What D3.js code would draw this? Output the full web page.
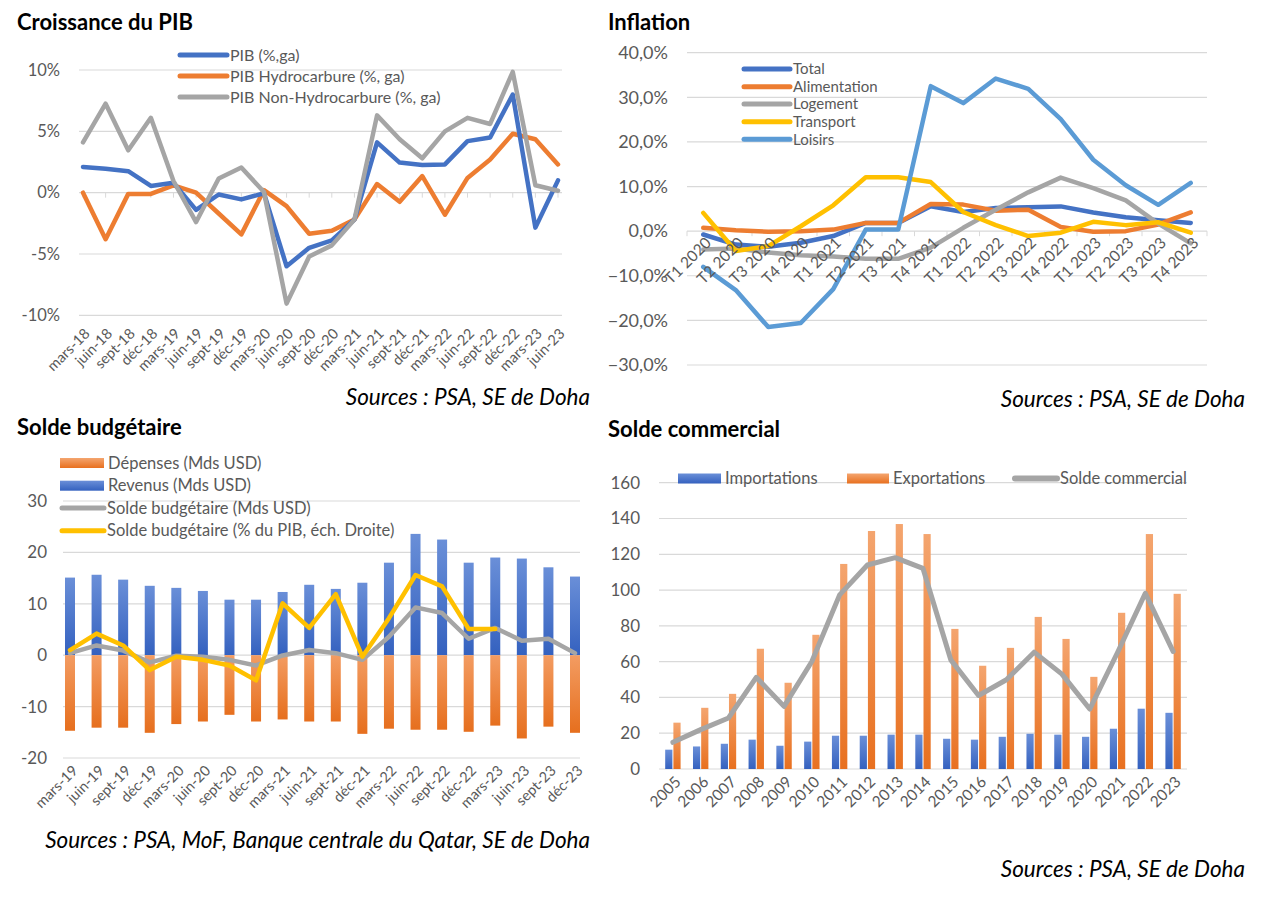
<!DOCTYPE html>
<html><head><meta charset="utf-8">
<script src="https://cdn.jsdelivr.net/npm/d3@7"></script>
<style>
body{margin:0;background:#fff;}
svg text{font-family:Lato,"Open Sans",sans-serif;}
</style></head>
<body><svg id="c" width="1273" height="907"></svg>
<script>
// ---------- Data ----------
const pibDates = ["mars-18","juin-18","sept-18","déc-18","mars-19","juin-19","sept-19","déc-19","mars-20","juin-20","sept-20","déc-20","mars-21","juin-21","sept-21","déc-21","mars-22","juin-22","sept-22","déc-22","mars-23","juin-23"];
const pibTotal = [2.1,1.95,1.75,0.55,0.8,-1.4,-0.15,-0.55,-0.05,-6.0,-4.5,-3.9,-2.2,4.1,2.45,2.25,2.3,4.2,4.5,8.0,-2.85,1.0];
const pibHydro = [0,-3.8,-0.1,-0.1,0.6,0.0,-1.7,-3.4,0.2,-1.1,-3.35,-3.1,-2.2,0.7,-0.75,1.35,-1.8,1.2,2.7,4.8,4.35,2.3];
const pibNonHydro = [4.1,7.25,3.45,6.1,0.95,-2.4,1.15,2.05,0.05,-9.05,-5.2,-4.3,-2.2,6.3,4.35,2.8,5.0,6.1,5.6,9.85,0.6,0.15];
const pibTicks = [-10,-5,0,5,10];

const inflQuarters = ["T1 2020","T2 2020","T3 2020","T4 2020","T1 2021","T2 2021","T3 2021","T4 2021","T1 2022","T2 2022","T3  2022","T4 2022","T1 2023","T2 2023","T3 2023","T4 2023"];
const inflTotal = [-0.75,-3.0,-3.5,-2.6,-1.1,1.85,1.85,5.6,4.3,5.2,5.35,5.55,4.2,3.1,2.45,1.85];
const inflAlim = [0.75,0.2,-0.15,0,0.35,1.85,1.85,6.1,5.95,4.6,4.8,0.95,-0.15,0,1.5,4.2];
const inflLogement = [-4.1,-3.9,-4.8,-5.4,-5.7,-6.2,-6.2,-3.7,0.75,4.8,8.7,12.0,9.65,6.9,1.7,-2.75];
const inflTransport = [4.1,-4.45,-3.35,1.1,5.8,12.1,12.1,11.0,4.3,1.35,-1.1,-0.35,2.1,1.35,2.0,-0.35];
const inflLoisirs = [-8.0,-13.2,-21.5,-20.6,-13.0,0.35,0.35,32.5,28.7,34.2,31.9,25.1,16.0,10.3,5.9,10.8];
const inflTicks = [-30,-20,-10,0,10,20,30,40];

const budgetDates = ["mars-19","juin-19","sept-19","déc-19","mars-20","juin-20","sept-20","déc-20","mars-21","juin-21","sept-21","déc-21","mars-22","juin-22","sept-22","déc-22","mars-23","juin-23","sept-23","déc-23"];
const budgetRevenus = [15.1,15.65,14.7,13.5,13.1,12.5,10.8,10.8,12.3,13.7,12.9,14.1,18.0,23.6,22.5,18.0,19.0,18.8,17.1,15.3];
const budgetDepenses = [-14.7,-14.1,-14.1,-15.1,-13.4,-12.9,-11.6,-12.9,-12.5,-12.9,-12.9,-15.3,-14.3,-14.5,-14.5,-14.9,-13.7,-16.2,-13.9,-15.1];
const budgetSolde = [0.4,1.9,0.9,-1.4,-0.1,-0.3,-0.9,-2.0,-0.05,1.0,0.4,-0.9,3.6,9.3,8.2,3.2,5.3,2.8,3.2,0.4];
const budgetSoldePib = [1.0,4.2,1.9,-2.9,-0.3,-0.9,-2.0,-4.9,10.1,5.3,11.9,-0.3,7.2,15.6,13.4,5.1,5.1];
const budgetTicks = [-20,-10,0,10,20,30];

const tradeYears = ["2005","2006","2007","2008","2009","2010","2011","2012","2013","2014","2015","2016","2017","2018","2019","2020","2021","2022","2023"];
const tradeImports = [10.8,12.6,14.1,16.4,13.0,15.3,18.6,18.6,19.2,19.2,16.9,16.4,18.0,19.7,19.2,18.0,22.5,33.7,31.4];
const tradeExports = [25.9,34.2,42.0,67.2,48.2,75.0,114.6,133.0,136.9,131.3,78.3,57.7,67.7,85.0,72.7,51.5,87.3,131.3,97.9];
const tradeBalance = [14.9,22.0,28.5,51.2,35.0,60.1,97.3,114.0,118.1,112.1,61.0,41.1,49.9,65.3,53.0,33.5,65.1,98.2,65.7];
const tradeTicks = [0,20,40,60,80,100,120,140,160];

// ---------- Style ----------
const C = {blue:"#4472C4", orange:"#ED7D31", gray:"#A5A5A5", yellow:"#FFC000", lblue:"#5B9BD5", grid:"#D9D9D9", text:"#595959"};
const svg = d3.select("#c");
const defs = svg.append("defs");
function grad(id, top, bottom){
  const g = defs.append("linearGradient").attr("id",id).attr("x1",0).attr("y1",0).attr("x2",0).attr("y2",1);
  g.append("stop").attr("offset","0%").attr("stop-color",top);
  g.append("stop").attr("offset","100%").attr("stop-color",bottom);
}
grad("gBlue","#6A8FD8","#3461BF");
grad("gOrange","#F4A56F","#E8701F");
grad("gOrangeNeg","#F39C62","#E66F1E");

function title(x,y,t){ svg.append("text").attr("x",x).attr("y",y).attr("font-size",22).attr("font-weight","bold").attr("fill","#000").text(t); }
function source(x,y,t){ svg.append("text").attr("x",x).attr("y",y).attr("text-anchor","end").attr("font-size",22.5).attr("font-style","italic").attr("fill","#000").text(t); }
function yAxis(y, ticks, x0, x1, labelX, fmt, fs){
  const g = svg.append("g");
  ticks.forEach(t=>{
    g.append("line").attr("x1",x0).attr("x2",x1).attr("y1",y(t)).attr("y2",y(t)).attr("stroke",C.grid).attr("stroke-width",1.2);
    g.append("text").attr("x",labelX).attr("y",y(t)).attr("dy","0.35em").attr("text-anchor","end").attr("font-size",fs).attr("fill",C.text).text(fmt(t));
  });
}
function xLabels(cats, xf, yBase, dx, fs){
  cats.forEach(c=>{
    svg.append("text").attr("transform",`translate(${xf(c)+dx},${yBase}) rotate(-45)`).attr("text-anchor","end").attr("dy","0.35em").attr("font-size",fs).attr("fill",C.text).text(c);
  });
}
function line(cats, vals, xf, y, color, w){
  const pts = vals.map((v,i)=>[xf(cats[i]), y(v)]);
  svg.append("path").attr("d", d3.line()(pts)).attr("fill","none").attr("stroke",color).attr("stroke-width",w).attr("stroke-linejoin","round").attr("stroke-linecap","round");
}
function legLine(x0,x1,y,color,txt,fs,w){
  svg.append("line").attr("x1",x0).attr("x2",x1).attr("y1",y).attr("y2",y).attr("stroke",color).attr("stroke-width",w||5).attr("stroke-linecap","round");
  svg.append("text").attr("x",x1+3).attr("y",y).attr("dy","0.35em").attr("font-size",fs).attr("fill",C.text).text(txt);
}
function legRect(x0,x1,y,fill,txt,fs){
  svg.append("rect").attr("x",x0).attr("y",y-5).attr("width",x1-x0).attr("height",10).attr("fill",fill);
  svg.append("text").attr("x",x1+4).attr("y",y).attr("dy","0.35em").attr("font-size",fs).attr("fill",C.text).text(txt);
}

// ---------- Panel 1: Croissance du PIB ----------
{
  title(17,30,"Croissance du PIB");
  const x = d3.scalePoint().domain(pibDates).range([83,558]);
  const y = d3.scaleLinear().domain([-10,10]).range([315.3,70]);
  yAxis(y, pibTicks, 79, 562, 60, d=>d+"%", 16.5);
  pibDates.forEach(d=>{ svg.append("line").attr("x1",x(d)).attr("x2",x(d)).attr("y1",y(0)).attr("y2",y(0)+5).attr("stroke",C.grid); });
  line(pibDates, pibHydro, x, y, C.orange, 4.5);
  line(pibDates, pibTotal, x, y, C.blue, 4.5);
  line(pibDates, pibNonHydro, x, y, C.gray, 4.5);
  xLabels(pibDates, x, 331, 4, 14.5);
  legLine(180,227,55,C.blue,"PIB (%,ga)",16);
  legLine(180,227,76,C.orange,"PIB Hydrocarbure (%, ga)",16);
  legLine(180,227,97,C.gray,"PIB Non-Hydrocarbure (%, ga)",16);
  source(590,405,"Sources : PSA, SE de Doha");
}

// ---------- Panel 2: Inflation ----------
{
  title(608,30,"Inflation");
  const xb = d3.scaleBand().domain(inflQuarters).range([687,1207]);
  const x = d=>xb(d)+xb.bandwidth()/2;
  const y = d3.scaleLinear().domain([-30,40]).range([365,52.7]);
  yAxis(y, inflTicks, 687, 1207, 668, d=>d3.format(".1f")(d).replace(".",",")+"%", 18);
  inflQuarters.forEach(d=>{ svg.append("line").attr("x1",xb(d)).attr("x2",xb(d)).attr("y1",y(0)).attr("y2",y(0)+5).attr("stroke",C.grid); });
  svg.append("line").attr("x1",1207).attr("x2",1207).attr("y1",y(0)).attr("y2",y(0)+5).attr("stroke",C.grid);
  line(inflQuarters, inflTotal, x, y, C.blue, 4.5);
  line(inflQuarters, inflAlim, x, y, C.orange, 4.5);
  line(inflQuarters, inflLogement, x, y, C.gray, 4.5);
  line(inflQuarters, inflTransport, x, y, C.yellow, 4.5);
  line(inflQuarters, inflLoisirs, x, y, C.lblue, 4.5);
  xLabels(inflQuarters, x, 240, 5, 15.5);
  legLine(744,790,69,C.blue,"Total",15);
  legLine(744,790,86.7,C.orange,"Alimentation",15);
  legLine(744,790,104,C.gray,"Logement",15);
  legLine(744,790,121.7,C.yellow,"Transport",15);
  legLine(744,790,139.3,C.lblue,"Loisirs",15);
  source(1245,407,"Sources : PSA, SE de Doha");
}

// ---------- Panel 3: Solde budgétaire ----------
{
  title(17,435,"Solde budgétaire");
  const x = d3.scalePoint().domain(budgetDates).range([70,575]);
  const y = d3.scaleLinear().domain([-20,30]).range([758,501]);
  const yR = d3.scaleLinear().domain([-20,30]).range([758,501]); // right axis (hidden)
  yAxis(y, budgetTicks, 63, 580, 47, d=>d, 17);
  const bw = 10;
  budgetDates.forEach((d,i)=>{
    svg.append("rect").attr("x",x(d)-bw/2).attr("y",y(budgetRevenus[i])).attr("width",bw).attr("height",y(0)-y(budgetRevenus[i])).attr("fill","url(#gBlue)");
    svg.append("rect").attr("x",x(d)-bw/2).attr("y",y(0)).attr("width",bw).attr("height",y(budgetDepenses[i])-y(0)).attr("fill","url(#gOrangeNeg)");
  });
  line(budgetDates, budgetSolde, x, y, C.gray, 4.5);
  line(budgetDates.slice(0,budgetSoldePib.length), budgetSoldePib, x, yR, C.yellow, 4.5);
  xLabels(budgetDates, x, 768, 5, 14.5);
  legRect(60,104,463,"url(#gOrange)","Dépenses (Mds USD)",16.5);
  legRect(60,104,485.7,"url(#gBlue)","Revenus (Mds USD)",16.5);
  legLine(62,104,508,C.gray,"Solde budgétaire (Mds USD)",16.5);
  legLine(62,104,530.7,C.yellow,"Solde budgétaire (% du PIB, éch. Droite)",16.5);
  source(590,848,"Sources : PSA, MoF, Banque centrale du Qatar, SE de Doha");
}

// ---------- Panel 4: Solde commercial ----------
{
  title(608,437,"Solde commercial");
  const xb = d3.scaleBand().domain(tradeYears).range([659,1187]);
  const x = d=>xb(d)+xb.bandwidth()/2;
  const y = d3.scaleLinear().domain([0,160]).range([769,482.7]);
  yAxis(y, tradeTicks, 659, 1187, 640, d=>d, 17);
  const bw = 7.2;
  tradeYears.forEach((d,i)=>{
    svg.append("rect").attr("x",x(d)-bw-0.5).attr("y",y(tradeImports[i])).attr("width",bw).attr("height",y(0)-y(tradeImports[i])).attr("fill","url(#gBlue)");
    svg.append("rect").attr("x",x(d)+0.5).attr("y",y(tradeExports[i])).attr("width",bw).attr("height",y(0)-y(tradeExports[i])).attr("fill","url(#gOrange)");
  });
  line(tradeYears, tradeBalance, x, y, C.gray, 5);
  xLabels(tradeYears, x, 779, 5, 15.5);
  legRect(678,721,478.5,"url(#gBlue)","Importations",16.5);
  legRect(847,889,478.5,"url(#gOrange)","Exportations",16.5);
  legLine(1015,1057,478.5,C.gray,"Solde commercial",16.5,6);
  source(1245,877,"Sources : PSA, SE de Doha");
}
</script></body></html>
